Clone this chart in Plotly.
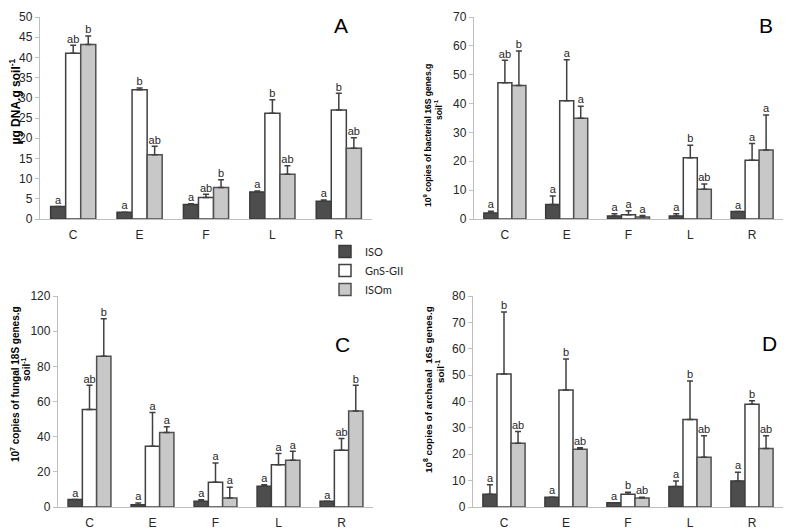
import plotly.graph_objects as go

sites = ["C", "E", "F", "L", "R"]
series = ["ISO", "GnS-GII", "ISOm"]

# Panel A: DNA yield
a_iso = [3.1, 1.7, 3.6, 6.7, 4.4]
a_iso_err = [0.0, 0.0, 0.2, 0.2, 0.3]
a_gns = [41.0, 32.0, 5.3, 26.2, 27.0]
a_gns_err = [2.0, 0.4, 0.8, 3.3, 4.1]
a_isom = [43.2, 15.9, 7.8, 11.1, 17.5]
a_isom_err = [2.1, 2.1, 1.9, 2.1, 2.6]
a_lab_iso = ["a", "a", "a", "a", "a"]
a_lab_gns = ["ab", "b", "ab", "b", "b"]
a_lab_isom = ["b", "ab", "b", "ab", "ab"]

# Panel B: bacterial 16S
b_iso = [2.1, 5.0, 1.0, 1.0, 2.6]
b_iso_err = [0.6, 3.0, 0.8, 0.8, 0.0]
b_gns = [47.2, 41.0, 1.5, 21.2, 20.4]
b_gns_err = [7.8, 14.2, 1.4, 4.4, 5.8]
b_isom = [46.3, 34.9, 0.7, 10.3, 23.9]
b_isom_err = [11.9, 4.2, 0.5, 1.8, 12.1]
b_lab_iso = ["a", "a", "a", "a", "a"]
b_lab_gns = ["ab", "a", "a", "b", "a"]
b_lab_isom = ["b", "a", "a", "ab", "a"]

# Panel C: fungal 18S
c_iso = [4.3, 1.3, 3.2, 11.8, 3.2]
c_iso_err = [0.0, 1.0, 0.9, 0.8, 0.0]
c_gns = [55.5, 34.5, 14.1, 24.0, 32.3]
c_gns_err = [13.7, 19.2, 10.9, 6.4, 6.7]
c_isom = [85.7, 42.4, 5.1, 26.6, 54.6]
c_isom_err = [21.4, 3.2, 6.2, 5.1, 14.6]
c_lab_iso = ["a", "a", "a", "a", "a"]
c_lab_gns = ["ab", "a", "a", "a", "ab"]
c_lab_isom = ["b", "a", "a", "a", "b"]

# Panel D: archaeal 16S
d_iso = [4.8, 3.7, 1.6, 7.8, 9.9]
d_iso_err = [3.6, 0.0, 0.0, 2.1, 3.3]
d_gns = [50.4, 44.4, 4.8, 33.2, 39.0]
d_gns_err = [23.5, 11.7, 0.8, 14.6, 1.3]
d_isom = [24.2, 21.9, 3.4, 18.9, 22.2]
d_isom_err = [4.4, 0.6, 0.3, 8.1, 4.8]
d_lab_iso = ["a", "a", "a", "a", "a"]
d_lab_gns = ["b", "b", "b", "b", "b"]
d_lab_isom = ["ab", "ab", "ab", "ab", "ab"]

panels = [
    ("A", [a_iso, a_gns, a_isom], [a_iso_err, a_gns_err, a_isom_err],
     [a_lab_iso, a_lab_gns, a_lab_isom], 50, 5),
    ("B", [b_iso, b_gns, b_isom], [b_iso_err, b_gns_err, b_isom_err],
     [b_lab_iso, b_lab_gns, b_lab_isom], 70, 10),
    ("C", [c_iso, c_gns, c_isom], [c_iso_err, c_gns_err, c_isom_err],
     [c_lab_iso, c_lab_gns, c_lab_isom], 120, 20),
    ("D", [d_iso, d_gns, d_isom], [d_iso_err, d_gns_err, d_isom_err],
     [d_lab_iso, d_lab_gns, d_lab_isom], 80, 10),
]

W, H = 795, 530
OFF = 8  # page body margin offset


def fx(px):
    return min(max((px - OFF) / W, 0.0), 1.0)


def fy(py):
    return min(max(1 - (py - OFF) / H, 0.0), 1.0)


# plot areas in screen pixels: (x0, x1, ytop, ybottom)
boxes = [(40, 372, 17, 219), (474, 783, 17, 219), (58, 373, 296, 507), (473, 783, 296, 507)]

fills = ["#4d4d4d", "#ffffff", "#c8c8c8"]
outlines = ["#3a3a3a", "#404040", "#505050"]
BARGAP = 0.32
bw = (1 - BARGAP) / 3
FONT = "Liberation Sans, Arial, sans-serif"

fig = go.Figure()
x_idx = list(range(len(sites)))

for p, (letter, vals, errs, labs, ymax, dt) in enumerate(panels):
    xa = "x" if p == 0 else f"x{p+1}"
    ya = "y" if p == 0 else f"y{p+1}"
    for j in range(3):
        fig.add_trace(go.Bar(
            x=x_idx, y=vals[j], name=series[j],
            marker=dict(color=fills[j], line=dict(color=outlines[j], width=1.5)),
            error_y=dict(type="data", symmetric=False, array=errs[j],
                         arrayminus=[0] * 5, color="#404040", thickness=1.5, width=3),
            xaxis=xa, yaxis=ya, showlegend=(p == 0), legendgroup=series[j],
        ))
    for j in range(3):
        fig.add_trace(go.Scatter(
            x=[i + (j - 1) * bw for i in x_idx],
            y=[v + e for v, e in zip(vals[j], errs[j])],
            text=labs[j], mode="text", textposition="top center",
            textfont=dict(family=FONT, size=11, color="#262626"),
            xaxis=xa, yaxis=ya, showlegend=False, hoverinfo="skip", cliponaxis=False,
        ))
    x0, x1, yt, yb = boxes[p]
    key = "" if p == 0 else str(p + 1)
    fig.layout["xaxis" + key] = dict(
        domain=[fx(x0), fx(x1)], anchor=ya, range=[-0.5, 4.5],
        tickvals=x_idx, ticktext=sites, ticks="", showline=True,
        linecolor="#bfbfbf", linewidth=1.3, showgrid=False, zeroline=False,
        tickfont=dict(family=FONT, size=12, color="#262626"), ticklabelstandoff=4,
        automargin=False,
    )
    fig.layout["yaxis" + key] = dict(
        domain=[fy(yb), fy(yt)], anchor=xa, range=[0, ymax], dtick=dt,
        tick0=0, ticks="outside", ticklen=4, tickcolor="#bfbfbf", showline=True,
        linecolor="#bfbfbf", linewidth=1.3, showgrid=False, zeroline=False,
        tickfont=dict(family=FONT, size=12, color="#262626"), automargin=False,
    )

# panel letters
letters_pos = [(341, 26), (766, 26), (342, 344), (769, 343)]
for (letter, *_), (px, py) in zip(panels, letters_pos):
    fig.add_annotation(x=fx(px), y=fy(py), xref="paper", yref="paper",
                       xanchor="center", yanchor="middle",
                       text=letter, showarrow=False,
                       font=dict(family=FONT, size=21, color="#000000"))

# y-axis titles (line by line)
titles = [
    ("µg DNA.g soil<sup>-1</sup>", 14.5, 102, 12),
    ("10<sup>9</sup> copies of bacterial 16S genes.g", 428, 136, 8.6),
    ("soil<sup>-1</sup>", 439, 110, 8.6),
    ("10<sup>7</sup> copies of fungal 18S genes.g", 15, 384, 10),
    ("soil<sup>-1</sup>", 26, 369, 10),
    ("10<sup>8</sup> copies of archaeal  16S genes.g", 428, 390, 9.9),
    ("soil<sup>-1</sup>", 440, 372, 9.9),
]
for txt, px, py, fs in titles:
    fig.add_annotation(x=fx(px), y=fy(py), xref="paper", yref="paper",
                       xanchor="center", yanchor="middle",
                       text="<b>" + txt + "</b>", showarrow=False, textangle=-90,
                       font=dict(family=FONT, size=fs, color="#000000"))

fig.update_layout(
    width=W, height=H, margin=dict(l=0, r=0, t=0, b=0, pad=0, autoexpand=False),
    paper_bgcolor="white", plot_bgcolor="white",
    barmode="group", bargap=BARGAP, bargroupgap=0,
    legend=dict(x=fx(325), y=fy(237), xanchor="left", yanchor="top",
                font=dict(family="Lato, Open Sans, sans-serif", size=11, color="#262626"),
                bgcolor="rgba(0,0,0,0)", itemwidth=30, tracegroupgap=0),
    showlegend=True,
)

fig.write_html("out.html")
